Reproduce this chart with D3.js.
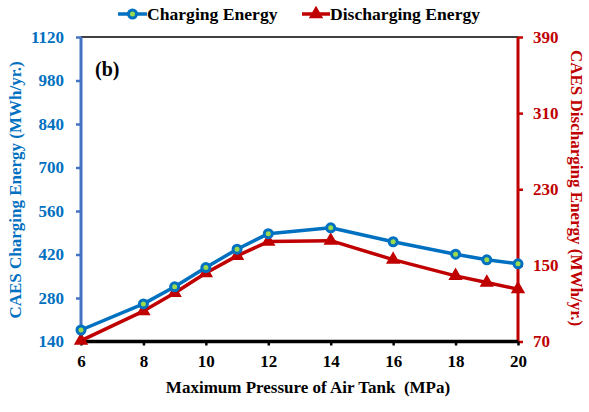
<!DOCTYPE html>
<html>
<head>
<meta charset="utf-8">
<script src="https://cdn.jsdelivr.net/npm/d3@7"></script>
<style>
  html, body { margin: 0; padding: 0; background: #fff; }
  svg text { font-family: "Liberation Serif", "Times New Roman", serif; font-weight: bold; }
</style>
</head>
<body>
<svg id="chart" width="589" height="412"></svg>
<script>
// Maximum pressure of the air tank (MPa)
const pressure = [6, 8, 9, 10, 11, 12, 14, 16, 18, 19, 20];
// Annual CAES charging energy (MWh/yr.), left axis
const chargingEnergy = [177, 261, 316, 378, 437, 487, 506, 461, 421, 403, 390];
// Annual CAES discharging energy (MWh/yr.), right axis
const dischargingEnergy = [71, 102, 121, 142, 160, 175, 176, 156, 139, 132, 125];

const xTicks = [6, 8, 10, 12, 14, 16, 18, 20];
const leftTicks = [140, 280, 420, 560, 700, 840, 980, 1120];
const rightTicks = [70, 150, 230, 310, 390];

const blue = "#0070C0";
const blueAxis = "#4472C4";
const red = "#C00000";

const svg = d3.select("#chart");
const plotLeft = 81, plotRight = 518, plotTop = 37, plotBottom = 341.5;

const x = d3.scaleLinear().domain([6, 20]).range([plotLeft, plotRight]);
const yL = d3.scaleLinear().domain([140, 1120]).range([plotBottom, plotTop]);
const yR = d3.scaleLinear().domain([70, 390]).range([plotBottom, plotTop]);

// top frame line
svg.append("line")
  .attr("x1", plotLeft).attr("x2", plotRight).attr("y1", plotTop).attr("y2", plotTop)
  .attr("stroke", "#000").attr("stroke-width", 1.5);

// left axis (charging)
const gL = svg.append("g").attr("transform", `translate(${plotLeft},0)`)
  .call(d3.axisLeft(yL).tickValues(leftTicks).tickSize(5).tickPadding(12).tickFormat(d3.format("d")));
gL.select(".domain").attr("stroke", blueAxis).attr("stroke-width", 3).attr("d", `M0,${plotTop}V${plotBottom}`);
gL.selectAll(".tick line").attr("stroke", blueAxis).attr("stroke-width", 2.5);
gL.selectAll(".tick text").attr("fill", blue).attr("font-size", 17);

// right axis (discharging)
const gR = svg.append("g").attr("transform", `translate(${plotRight},0)`)
  .call(d3.axisRight(yR).tickValues(rightTicks).tickSize(5).tickPadding(10).tickFormat(d3.format("d")));
gR.select(".domain").attr("stroke", red).attr("stroke-width", 3).attr("d", `M0,${plotTop}V${plotBottom}`);
gR.selectAll(".tick line").attr("stroke", red).attr("stroke-width", 2.5);
gR.selectAll(".tick text").attr("fill", red).attr("font-size", 17);

// bottom axis
const gX = svg.append("g").attr("transform", `translate(0,${plotBottom})`)
  .call(d3.axisBottom(x).tickValues(xTicks).tickSize(4).tickPadding(9).tickFormat(d3.format("d")));
gX.select(".domain").attr("stroke", "#000").attr("stroke-width", 3.5).attr("d", `M${plotLeft},0H${plotRight}`);
gX.selectAll(".tick line").attr("stroke", "#000").attr("stroke-width", 2.5);
gX.selectAll(".tick text").attr("fill", "#000").attr("font-size", 17);

// series lines
const lineL = d3.line().x((d, i) => x(pressure[i])).y(d => yL(d));
const lineR = d3.line().x((d, i) => x(pressure[i])).y(d => yR(d));

svg.append("path").datum(dischargingEnergy).attr("d", lineR)
  .attr("fill", "none").attr("stroke", red).attr("stroke-width", 3.5).attr("stroke-linejoin", "round");
svg.append("path").datum(chargingEnergy).attr("d", lineL)
  .attr("fill", "none").attr("stroke", blue).attr("stroke-width", 3.5).attr("stroke-linejoin", "round");

// markers
const tri = d3.symbol().type(d3.symbolTriangle).size(60);
svg.append("g").selectAll("path").data(dischargingEnergy).join("path")
  .attr("d", tri)
  .attr("transform", (d, i) => `translate(${x(pressure[i])},${yR(d)})`)
  .attr("fill", red).attr("stroke", red).attr("stroke-width", 1.5);
svg.append("g").selectAll("circle").data(chargingEnergy).join("circle")
  .attr("cx", (d, i) => x(pressure[i])).attr("cy", d => yL(d)).attr("r", 4)
  .attr("fill", "#9ADB4E").attr("stroke", blue).attr("stroke-width", 3);

// panel label
svg.append("text").attr("x", 95).attr("y", 76).attr("font-size", 20).attr("fill", "#000").text("(b)");

// axis titles
svg.append("text")
  .attr("transform", "translate(21,190) rotate(-90)")
  .attr("text-anchor", "middle").attr("font-size", 17).attr("fill", blue)
  .text("CAES Charging Energy (MWh/yr.)");
svg.append("text")
  .attr("transform", "translate(571,188) rotate(90)")
  .attr("text-anchor", "middle").attr("font-size", 17).attr("fill", red)
  .text("CAES Discharging Energy (MWh/yr.)");
svg.append("text")
  .attr("x", 308).attr("y", 393).attr("text-anchor", "middle").attr("font-size", 17).attr("fill", "#000")
  .style("white-space", "pre")
  .text("Maximum Pressure of Air Tank  (MPa)");

// legend
const legend = svg.append("g").attr("transform", "translate(0,14)");
legend.append("line").attr("x1", 118).attr("x2", 147).attr("y1", 0).attr("y2", 0)
  .attr("stroke", blue).attr("stroke-width", 3.5);
legend.append("circle").attr("cx", 132.5).attr("cy", 0).attr("r", 4)
  .attr("fill", "#9ADB4E").attr("stroke", blue).attr("stroke-width", 3);
legend.append("text").attr("x", 147).attr("y", 6).attr("font-size", 17.6).attr("fill", "#000").text("Charging Energy");
legend.append("line").attr("x1", 302).attr("x2", 330).attr("y1", 0).attr("y2", 0)
  .attr("stroke", red).attr("stroke-width", 3.5);
legend.append("path").attr("d", tri).attr("transform", "translate(316,0)")
  .attr("fill", red).attr("stroke", red).attr("stroke-width", 1.5);
legend.append("text").attr("x", 330).attr("y", 6).attr("font-size", 17.6).attr("fill", "#000").text("Discharging Energy");
</script>
</body>
</html>
